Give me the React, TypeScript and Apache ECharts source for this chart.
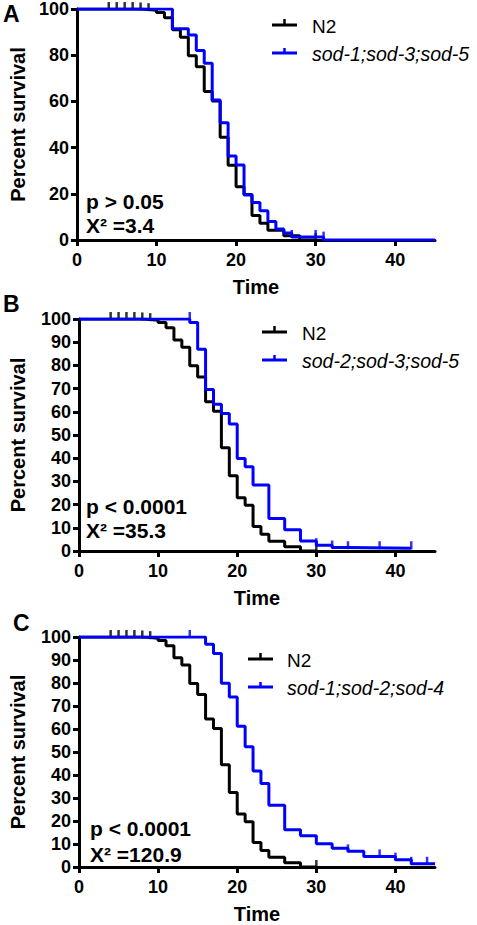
import React, { useEffect, useRef } from "react";
import * as echarts from "echarts";

// ---------- data ----------
const X_TICKS = [0, 10, 20, 30, 40];
const PANEL_LABELS = ["A", "B", "C"];
const MUTANT_NAMES = ["sod-1;sod-3;sod-5", "sod-2;sod-3;sod-5", "sod-1;sod-2;sod-4"];
const P_TEXTS = ["p > 0.05", "p < 0.0001", "p < 0.0001"];
const CHI_TEXTS = ["X\u00B2 =3.4", "X\u00B2 =35.3", "X\u00B2 =120.9"];
const Y_INTERVALS = [20, 10, 10];

// N2 (wild type) Kaplan-Meier steps [time, percent survival]
const N2_STEPS = [
  [0, 100], [8, 99.8], [9, 99.5], [10, 98.5], [11, 96.2], [12, 91], [13, 87.8],
  [14, 79.8], [15, 75], [16, 64.3], [17, 60.2], [18, 44.5], [19, 32.4], [20, 23],
  [21, 19.7], [22, 10.6], [23, 7.2], [24, 4.2], [26, 1.8], [28, 0], [30, 0],
];
const N2_CENSORED = [[4, 100], [5, 100], [6, 100], [7, 100], [8, 99.8], [9, 99.5], [30, 0]];

// sod-1;sod-3;sod-5
const MUT_A_STEPS = [
  [0, 100], [12, 91.5], [14, 88.7], [15, 82], [16, 76.5], [17, 60.6], [18, 50.8],
  [19, 36.4], [20, 32.5], [21, 19.5], [22, 16.2], [23, 12.7], [24, 8], [25, 4.8],
  [26, 3], [27, 1.3], [31, 0], [45, 0],
];
const MUT_A_CENSORED = [[27, 1.3], [30, 1.3], [31, 0.6]];

// sod-2;sod-3;sod-5
const MUT_B_STEPS = [
  [0, 100], [14, 98.5], [15, 87], [16, 69.6], [17, 63.3], [18, 59.3], [19, 54.7],
  [20, 39.9], [21, 36.3], [22, 28.4], [24, 14], [26, 9.2], [28, 4.3], [30, 2.5],
  [32, 1.5], [34, 1.2], [42, 1.2],
];
const MUT_B_CENSORED = [[14, 100], [30, 2.5], [32, 1.5], [34, 1.2], [38, 1.2], [42, 1.2]];

// sod-1;sod-2;sod-4
const MUT_C_STEPS = [
  [0, 100], [16, 96.8], [17, 92.8], [18, 79.9], [19, 73.9], [20, 61.2], [21, 52.3],
  [22, 41.7], [23, 36.3], [24, 26.8], [26, 16.2], [28, 13.6], [30, 10.1], [32, 8.2],
  [34, 6.8], [36, 4.6], [40, 3.2], [42, 1.4], [45, 1.4],
];
const MUT_C_CENSORED = [[14, 100], [34, 6.8], [38, 4.6], [40, 3.2], [42, 1.4], [44, 1.4]];

const MUT_STEPS = [MUT_A_STEPS, MUT_B_STEPS, MUT_C_STEPS];
const MUT_CENSORED = [MUT_A_CENSORED, MUT_B_CENSORED, MUT_C_CENSORED];

// ---------- layout / style ----------
const FONT = "'Liberation Sans', Arial, Helvetica, sans-serif";
const BLUE = "#0000ff";
const BLACK = "#000000";
const GRIDS = [
  { top: 9, height: 231 },
  { top: 319, height: 232 },
  { top: 637, height: 231 },
];
const GRID_LEFT = 75;
const GRID_WIDTH = 360;
const Y_NAME_GAPS = [48, 51, 51];
const LETTER_POS = [
  { x: 3, y: 14 },
  { x: 3, y: 304 },
  { x: 13, y: 623 },
];
const ANNOT_POS = [
  { x: 86, y1: 201, y2: 225 },
  { x: 86, y1: 506, y2: 530 },
  { x: 90, y1: 828, y2: 854 },
];
const LEGEND_POS = [
  { x: 272, y1: 25, y2: 53, tx: 312 },
  { x: 262, y1: 332, y2: 360, tx: 302 },
  { x: 248, y1: 659, y2: 687, tx: 287 },
];

function buildOption() {
  const grid = GRIDS.map((g) => ({ left: GRID_LEFT, width: GRID_WIDTH, top: g.top, height: g.height }));
  const axisCommon = {
    axisLine: { show: true, onZero: true, lineStyle: { color: BLACK, width: 3 } },
    axisTick: { show: true, length: 6, lineStyle: { color: BLACK, width: 3 } },
    splitLine: { show: false },
  };
  const xAxis = GRIDS.map((_, i) => ({
    type: "value",
    gridIndex: i,
    min: 0,
    max: 45,
    interval: 10,
    ...axisCommon,
    axisTick: { ...axisCommon.axisTick, customValues: X_TICKS },
    axisLabel: {
      customValues: X_TICKS,
      color: BLACK,
      fontSize: 18,
      fontWeight: "bold",
      fontFamily: FONT,
      margin: 11,
    },
    name: "Time",
    nameLocation: "middle",
    nameGap: 37,
    nameTextStyle: { color: BLACK, fontSize: 20, fontWeight: "bold", fontFamily: FONT },
  }));
  const yAxis = GRIDS.map((_, i) => ({
    type: "value",
    gridIndex: i,
    min: 0,
    max: 100,
    interval: Y_INTERVALS[i],
    ...axisCommon,
    axisLabel: {
      color: BLACK,
      fontSize: 18,
      fontWeight: "bold",
      fontFamily: FONT,
      margin: 8,
    },
    name: "Percent survival",
    nameLocation: "middle",
    nameGap: Y_NAME_GAPS[i],
    nameTextStyle: { color: BLACK, fontSize: 20, fontWeight: "bold", fontFamily: FONT },
  }));

  const series: any[] = [];
  GRIDS.forEach((_, i) => {
    series.push({
      name: "N2",
      type: "line",
      step: "end",
      xAxisIndex: i,
      yAxisIndex: i,
      data: N2_STEPS,
      showSymbol: false,
      lineStyle: { color: BLACK, width: 3 },
      z: 3,
    });
    series.push({
      name: "N2 censored",
      type: "scatter",
      xAxisIndex: i,
      yAxisIndex: i,
      data: N2_CENSORED,
      symbol: "rect",
      symbolSize: [2.5, 8],
      symbolOffset: [0, -3],
      itemStyle: { color: BLACK },
      z: 3,
    });
    series.push({
      name: MUTANT_NAMES[i],
      type: "line",
      step: "end",
      xAxisIndex: i,
      yAxisIndex: i,
      data: MUT_STEPS[i],
      showSymbol: false,
      lineStyle: { color: BLUE, width: 3 },
      z: 4,
    });
    series.push({
      name: MUTANT_NAMES[i] + " censored",
      type: "scatter",
      xAxisIndex: i,
      yAxisIndex: i,
      data: MUT_CENSORED[i],
      symbol: "rect",
      symbolSize: [2.5, 8],
      symbolOffset: [0, -3],
      itemStyle: { color: BLUE },
      z: 4,
    });
  });

  const graphic: any[] = [];
  GRIDS.forEach((_, i) => {
    const L = LETTER_POS[i];
    graphic.push({
      type: "text",
      style: {
        text: PANEL_LABELS[i],
        x: L.x,
        y: L.y,
        fill: BLACK,
        fontSize: 23,
        fontWeight: "bold",
        fontFamily: FONT,
        verticalAlign: "middle",
      },
    });
    const A = ANNOT_POS[i];
    graphic.push({
      type: "text",
      style: { text: P_TEXTS[i], x: A.x, y: A.y1, fill: BLACK, fontSize: 21, fontWeight: "bold", fontFamily: FONT, verticalAlign: "middle" },
    });
    graphic.push({
      type: "text",
      style: { text: CHI_TEXTS[i], x: A.x, y: A.y2, fill: BLACK, fontSize: 21, fontWeight: "bold", fontFamily: FONT, verticalAlign: "middle" },
    });
    const G = LEGEND_POS[i];
    const cx = G.x + 12.5;
    graphic.push({ type: "line", shape: { x1: G.x, y1: G.y1, x2: G.x + 25, y2: G.y1 }, style: { stroke: BLACK, lineWidth: 3 } });
    graphic.push({ type: "line", shape: { x1: cx, y1: G.y1 - 6, x2: cx, y2: G.y1 }, style: { stroke: BLACK, lineWidth: 2.5 } });
    graphic.push({ type: "line", shape: { x1: G.x, y1: G.y2, x2: G.x + 25, y2: G.y2 }, style: { stroke: BLUE, lineWidth: 3 } });
    graphic.push({ type: "line", shape: { x1: cx, y1: G.y2 - 5, x2: cx, y2: G.y2 }, style: { stroke: BLUE, lineWidth: 2.5 } });
    graphic.push({
      type: "text",
      style: { text: "N2", x: G.tx, y: G.y1 + 1, fill: BLACK, fontSize: 19, fontFamily: FONT, verticalAlign: "middle" },
    });
    graphic.push({
      type: "text",
      style: { text: MUTANT_NAMES[i], x: G.tx, y: G.y2 + 1, fill: BLACK, fontSize: 19.5, fontStyle: "italic", fontFamily: FONT, verticalAlign: "middle" },
    });
  });

  return {
    animation: false,
    backgroundColor: "#ffffff",
    grid,
    xAxis,
    yAxis,
    series,
    graphic,
  };
}

export default function App() {
  const ref = useRef<HTMLDivElement | null>(null);
  useEffect(() => {
    if (!ref.current) return;
    const chart = echarts.init(ref.current, undefined, { renderer: "svg" });
    chart.setOption(buildOption() as any);
    return () => chart.dispose();
  }, []);
  return (
    <div
      ref={ref}
      style={{ position: "absolute", left: 0, top: 0, width: 477, height: 925, background: "#fff" }}
    />
  );
}
